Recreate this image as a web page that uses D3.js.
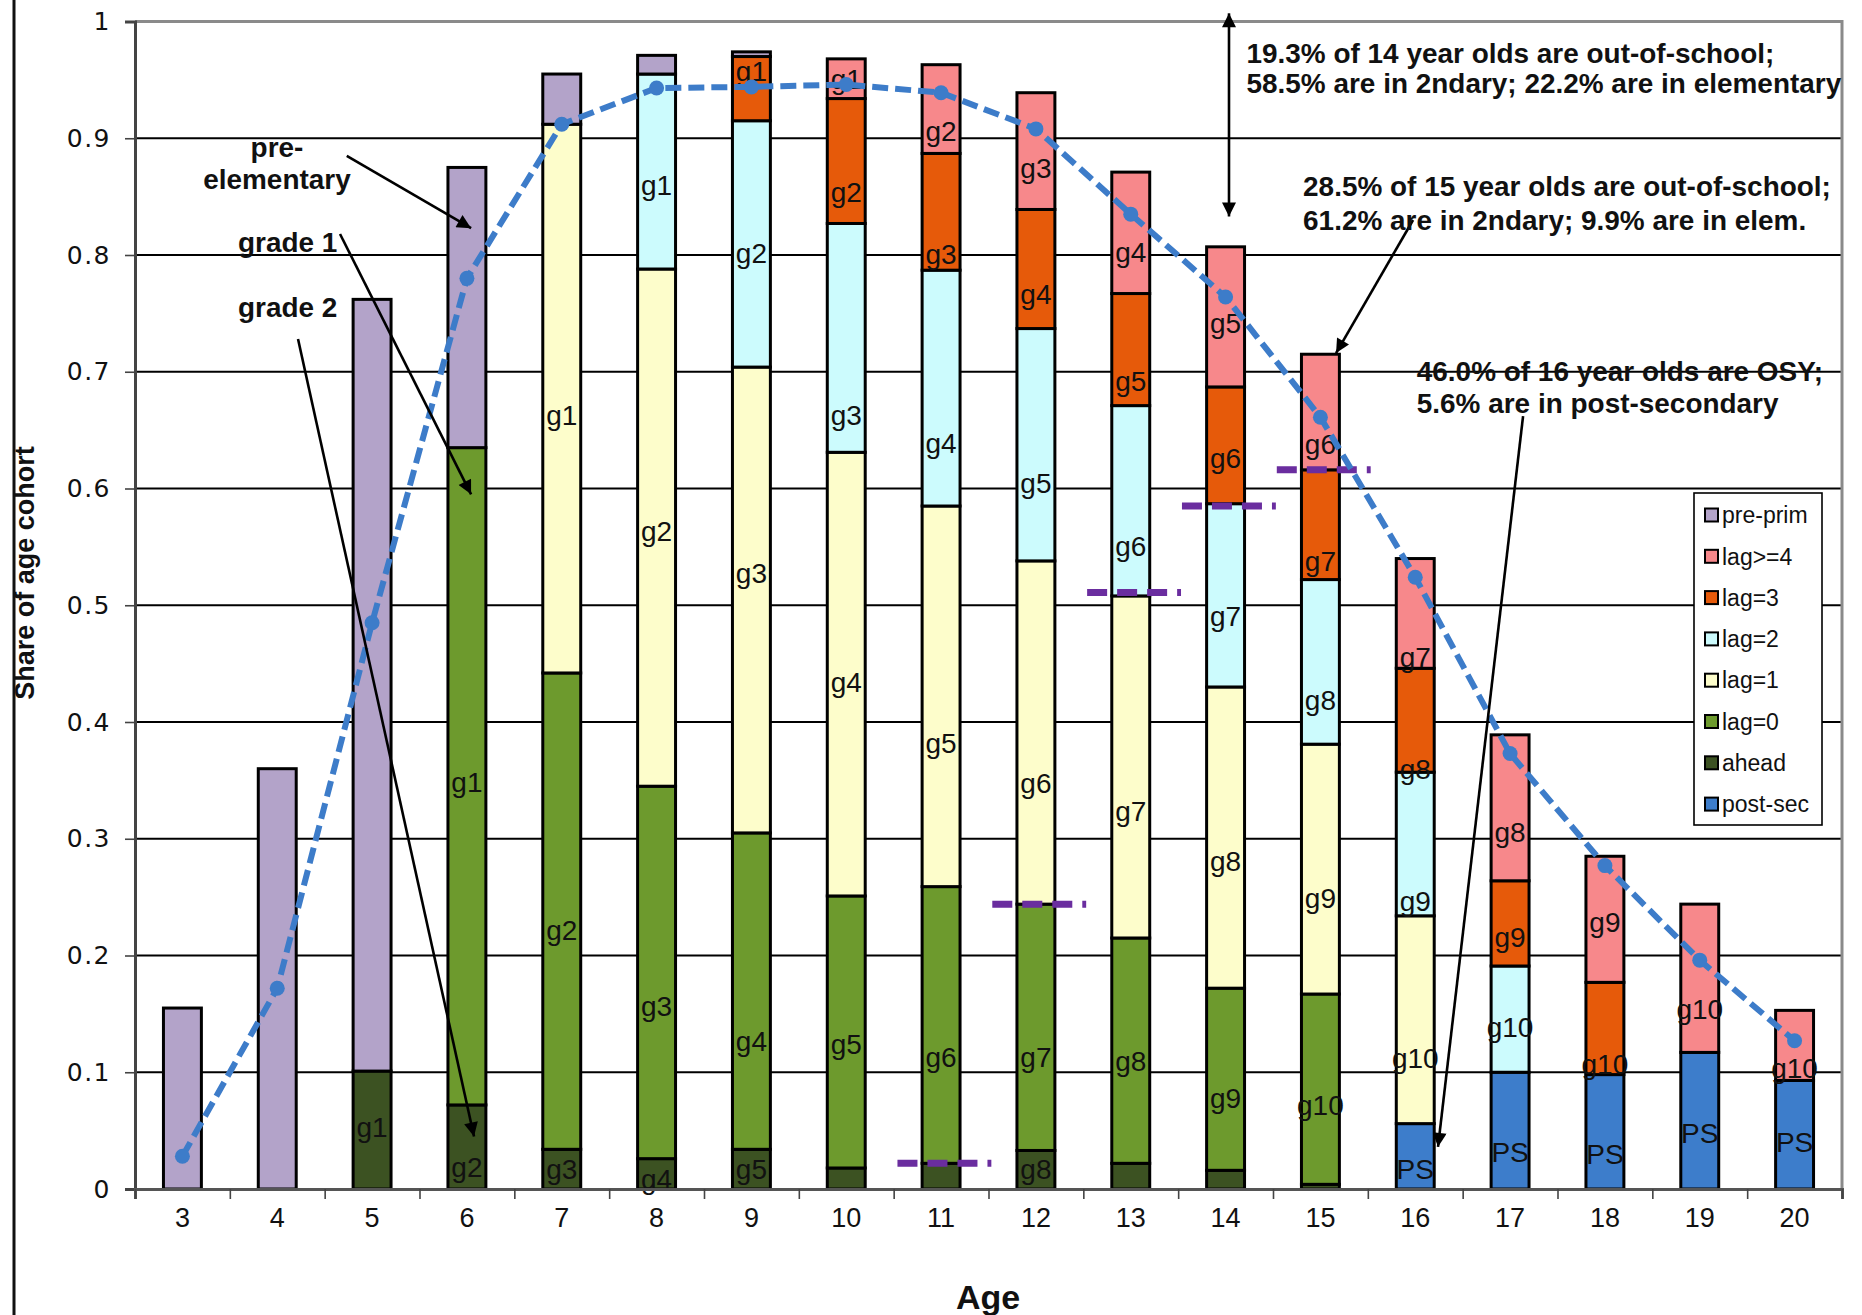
<!DOCTYPE html>
<html>
<head>
<meta charset="utf-8">
<script src="https://cdn.jsdelivr.net/npm/d3@7"></script>
<style>
  html, body { margin: 0; padding: 0; background: #fff; }
  svg { display: block; }
  .narrow { font-family: "Liberation Sans Narrow", "Arial Narrow", sans-serif; }
  .bold { font-family: "Liberation Sans", Arial, sans-serif; font-weight: bold; }
</style>
</head>
<body>
<svg id="chart" width="1862" height="1315"></svg>
<script>
// ── DATA ─────────────────────────────────────────────────────────────────
const ages = [3, 4, 5, 6, 7, 8, 9, 10, 11, 12, 13, 14, 15, 16, 17, 18, 19, 20];

// stacked shares of each age cohort, bottom to top
const postSec = [0, 0, 0, 0, 0, 0, 0, 0, 0, 0, 0, 0, 0, 0.056, 0.100, 0.098, 0.117, 0.093];
const ahead   = [0, 0, 0.101, 0.072, 0.034, 0.026, 0.034, 0.018, 0.022, 0.033, 0.022, 0.016, 0.004, 0, 0, 0, 0, 0];
const lag0    = [0, 0, 0, 0.563, 0.408, 0.319, 0.271, 0.233, 0.237, 0.211, 0.193, 0.156, 0.163, 0, 0, 0, 0, 0];
const lag1    = [0, 0, 0, 0, 0.470, 0.443, 0.399, 0.380, 0.326, 0.294, 0.293, 0.258, 0.214, 0.178, 0, 0, 0, 0];
const lag2    = [0, 0, 0, 0, 0, 0.167, 0.211, 0.196, 0.202, 0.199, 0.163, 0.157, 0.141, 0.123, 0.091, 0, 0, 0];
const lag3    = [0, 0, 0, 0, 0, 0, 0.055, 0.107, 0.100, 0.102, 0.096, 0.100, 0.094, 0.089, 0.073, 0.079, 0, 0];
const lag4    = [0, 0, 0, 0, 0, 0, 0, 0.034, 0.076, 0.100, 0.104, 0.120, 0.099, 0.094, 0.125, 0.108, 0.127, 0.060];
const prePrim = [0.155, 0.360, 0.661, 0.240, 0.043, 0.016, 0.004, 0, 0, 0, 0, 0, 0, 0, 0, 0, 0, 0];

// blue dashed line (share enrolled)
const enrolled = [0.028, 0.172, 0.485, 0.780, 0.912, 0.943, 0.944, 0.946, 0.939, 0.908, 0.835, 0.764, 0.661, 0.524, 0.373, 0.277, 0.196, 0.127];

// purple dash: share in secondary
const secAges  = [11, 12, 13, 14, 15];
const secShare = [0.022, 0.244, 0.511, 0.585, 0.616];

// grade labels inside bars: [age, text, value where label sits]
const gradeLabels = [
  [5, 'g1', 0.053],
  [6, 'g1', 0.349], [6, 'g2', 0.019],
  [7, 'g1', 0.663], [7, 'g2', 0.222], [7, 'g3', 0.017],
  [8, 'g1', 0.860], [8, 'g2', 0.564], [8, 'g3', 0.157], [8, 'g4', 0.009],
  [9, 'g1', 0.958], [9, 'g2', 0.802], [9, 'g3', 0.528], [9, 'g4', 0.127], [9, 'g5', 0.017],
  [10, 'g1', 0.951], [10, 'g2', 0.854], [10, 'g3', 0.663], [10, 'g4', 0.434], [10, 'g5', 0.124],
  [11, 'g2', 0.906], [11, 'g3', 0.801], [11, 'g4', 0.639], [11, 'g5', 0.382], [11, 'g6', 0.113],
  [12, 'g3', 0.875], [12, 'g4', 0.767], [12, 'g5', 0.605], [12, 'g6', 0.348], [12, 'g7', 0.113], [12, 'g8', 0.017],
  [13, 'g4', 0.803], [13, 'g5', 0.692], [13, 'g6', 0.551], [13, 'g7', 0.324], [13, 'g8', 0.110],
  [14, 'g5', 0.742], [14, 'g6', 0.626], [14, 'g7', 0.491], [14, 'g8', 0.281], [14, 'g9', 0.078],
  [15, 'g6', 0.638], [15, 'g7', 0.538], [15, 'g8', 0.419], [15, 'g9', 0.249], [15, 'g10', 0.072],
  [16, 'g7', 0.456], [16, 'g8', 0.360], [16, 'g9', 0.247], [16, 'g10', 0.112], [16, 'PS', 0.017],
  [17, 'g8', 0.306], [17, 'g9', 0.216], [17, 'g10', 0.139], [17, 'PS', 0.032],
  [18, 'g9', 0.229], [18, 'g10', 0.107], [18, 'PS', 0.030],
  [19, 'g10', 0.154], [19, 'PS', 0.048],
  [20, 'g10', 0.104], [20, 'PS', 0.040]
];

const seriesKeys   = ['postSec', 'ahead', 'lag0', 'lag1', 'lag2', 'lag3', 'lag4', 'prePrim'];
const seriesNames  = ['post-sec', 'ahead', 'lag=0', 'lag=1', 'lag=2', 'lag=3', 'lag>=4', 'pre-prim'];
const seriesColors = ['#3d7dcb', '#3c5222', '#6d9a2d', '#fdfdcb', '#ccfbfd', '#e65a0a', '#f7888b', '#b3a3c9'];
const yTicks = [0, 0.1, 0.2, 0.3, 0.4, 0.5, 0.6, 0.7, 0.8, 0.9, 1];

// ── CHART SETUP ──────────────────────────────────────────────────────────
const W = 1862, H = 1315;
const margin = { top: 21.5, right: 20, bottom: 126, left: 135 };
const iW = W - margin.left - margin.right;
const iH = H - margin.top - margin.bottom;

const svg = d3.select('#chart');
const defs = svg.append('defs');
defs.append('marker').attr('id', 'ah')
  .attr('viewBox', '0 0 10 10').attr('refX', 10).attr('refY', 5)
  .attr('markerWidth', 16).attr('markerHeight', 14)
  .attr('markerUnits', 'userSpaceOnUse').attr('orient', 'auto-start-reverse')
  .append('path').attr('d', 'M0,0L10,5L0,10z').attr('fill', '#000');

const x = d3.scaleBand().domain(ages).range([0, iW]).paddingInner(0.6).paddingOuter(0.3);
const xEdge = d3.scaleLinear().domain([0, ages.length]).range([0, iW]);
const y = d3.scaleLinear().domain([0, 1]).range([iH, 0]);
const xc = a => x(a) + x.bandwidth() / 2;
// continuous age position (centre of category) for annotations
const xa = d3.scaleLinear().domain([ages[0], ages[ages.length - 1]]).range([xc(ages[0]), xc(ages[ages.length - 1])]);

// chart-area left border
svg.append('line').attr('x1', 14).attr('x2', 14).attr('y1', 0).attr('y2', H)
  .attr('stroke', '#111').attr('stroke-width', 3);

const g = svg.append('g').attr('transform', `translate(${margin.left},${margin.top})`);

// grid
g.append('g').selectAll('line')
  .data(yTicks.filter(d => d > 0 && d < 1))
  .join('line')
  .attr('x1', 0).attr('x2', iW)
  .attr('y1', d => y(d)).attr('y2', d => y(d))
  .attr('stroke', '#000').attr('stroke-width', 1.8);

// plot border (top + right)
g.append('path')
  .attr('d', `M0,${y(1)}H${iW}V${iH}`)
  .attr('fill', 'none').attr('stroke', '#8a8a8a').attr('stroke-width', 3);

// ── BARS ─────────────────────────────────────────────────────────────────
const cols = { postSec, ahead, lag0, lag1, lag2, lag3, lag4, prePrim };
const table = ages.map((a, i) => {
  const row = { age: a };
  seriesKeys.forEach(k => { row[k] = cols[k][i]; });
  return row;
});
const stacked = d3.stack().keys(seriesKeys)(table);

g.append('g').selectAll('g')
  .data(stacked)
  .join('g')
  .attr('fill', (d, i) => seriesColors[i])
  .selectAll('rect')
  .data(d => d.filter(s => s[1] - s[0] > 0))
  .join('rect')
  .attr('x', d => x(d.data.age))
  .attr('width', x.bandwidth())
  .attr('y', d => y(d[1]))
  .attr('height', d => y(d[0]) - y(d[1]))
  .attr('stroke', '#000').attr('stroke-width', 3);

// grade labels
g.append('g').attr('class', 'narrow')
  .selectAll('text')
  .data(gradeLabels)
  .join('text')
  .attr('x', d => xc(d[0]))
  .attr('y', d => y(d[2]))
  .attr('dy', '0.36em')
  .attr('text-anchor', 'middle')
  .attr('font-size', 28)
  .attr('fill', '#111')
  .text(d => d[1]);

// ── AXES ─────────────────────────────────────────────────────────────────
const yAxis = g.append('g')
  .call(d3.axisLeft(y).tickValues(yTicks).tickSize(10).tickPadding(14)
    .tickFormat(d => d === 0 ? '0' : d === 1 ? '1' : d.toFixed(1)));
yAxis.select('.domain').attr('stroke', '#444').attr('stroke-width', 3);
yAxis.selectAll('.tick line').attr('stroke', '#444').attr('stroke-width', 1.6);
yAxis.selectAll('text')
  .attr('font-family', '"DejaVu Sans", sans-serif').attr('font-size', 25)
  .attr('letter-spacing', 1.5).attr('fill', '#111');

const xTickG = g.append('g').attr('transform', `translate(0,${iH})`)
  .call(d3.axisBottom(xEdge).tickValues(d3.range(ages.length + 1)).tickSize(10).tickFormat(''));
xTickG.select('.domain').attr('stroke', '#555').attr('stroke-width', 3);
xTickG.selectAll('.tick line').attr('stroke', '#444').attr('stroke-width', 1.6);

const xAxis = g.append('g').attr('transform', `translate(0,${iH})`)
  .call(d3.axisBottom(x).tickSize(0).tickPadding(19));
xAxis.select('.domain').remove();
xAxis.selectAll('text')
  .attr('class', 'narrow').attr('font-size', 27).attr('fill', '#111');

// axis titles
svg.append('text').attr('class', 'bold')
  .attr('x', 988).attr('y', 1309)
  .attr('text-anchor', 'middle').attr('font-size', 34).attr('fill', '#111')
  .text('Age');

svg.append('text').attr('class', 'narrow')
  .attr('transform', 'translate(34,573) rotate(-90)')
  .attr('text-anchor', 'middle').attr('font-size', 27).attr('font-weight', 'bold').attr('fill', '#111')
  .text('Share of age cohort');

// ── SECONDARY DASHES ─────────────────────────────────────────────────────
g.append('g').selectAll('line')
  .data(secAges.map((a, i) => [a, secShare[i]]))
  .join('line')
  .attr('x1', d => xc(d[0]) - 0.46 * x.step())
  .attr('x2', d => xc(d[0]) + 0.53 * x.step())
  .attr('y1', d => y(d[1])).attr('y2', d => y(d[1]))
  .attr('stroke', '#6a2d9f').attr('stroke-width', 7)
  .attr('stroke-dasharray', '20 10');

// ── ENROLLED LINE ────────────────────────────────────────────────────────
const linePts = ages.map((a, i) => [a, enrolled[i]]);
g.append('path')
  .datum(linePts)
  .attr('d', d3.line().x(d => xc(d[0])).y(d => y(d[1])))
  .attr('fill', 'none').attr('stroke', '#3d7cc9').attr('stroke-width', 6)
  .attr('stroke-dasharray', '16 7');
g.append('g').selectAll('circle')
  .data(linePts)
  .join('circle')
  .attr('cx', d => xc(d[0])).attr('cy', d => y(d[1])).attr('r', 7.5)
  .attr('fill', '#3d7cc9');

// ── ANNOTATIONS ──────────────────────────────────────────────────────────
// arrows in [age, value] coordinates
const arrows = [
  { from: [4.733, 0.885], to: [6.044, 0.823] },
  { from: [4.662, 0.818], to: [6.044, 0.595] },
  { from: [4.219, 0.728], to: [6.075, 0.045] },
  { from: [14.036, 0.833], to: [14.036, 1.007], both: true },
  { from: [15.977, 0.830], to: [15.165, 0.716] },
  { from: [17.137, 0.662], to: [16.240, 0.036] }
];
g.append('g').selectAll('line')
  .data(arrows)
  .join('line')
  .attr('x1', d => xa(d.from[0])).attr('y1', d => y(d.from[1]))
  .attr('x2', d => xa(d.to[0])).attr('y2', d => y(d.to[1]))
  .attr('stroke', '#000').attr('stroke-width', 2.6)
  .attr('marker-end', 'url(#ah)')
  .attr('marker-start', d => d.both ? 'url(#ah)' : null);

// notes: [age position, value, text, anchor]
const notes = [
  [3.997, 0.892, 'pre-', 'middle'],
  [3.997, 0.865, 'elementary', 'middle'],
  [3.586, 0.811, 'grade 1', 'start'],
  [3.586, 0.755, 'grade 2', 'start'],
  [14.22, 0.973, '19.3% of 14 year olds are out-of-school;', 'start'],
  [14.22, 0.947, '58.5% are in 2ndary; 22.2% are in elementary', 'start'],
  [14.817, 0.859, '28.5% of 15 year olds are out-of-school;', 'start'],
  [14.817, 0.830, '61.2% are in 2ndary; 9.9% are in elem.', 'start'],
  [16.016, 0.700, '46.0% of 16 year olds are OSY;', 'start'],
  [16.016, 0.673, '5.6% are in post-secondary', 'start']
];
g.append('g').attr('class', 'bold')
  .selectAll('text')
  .data(notes)
  .join('text')
  .attr('transform', d => `translate(${xa(d[0])},${y(d[1])}) scale(1.035,1)`)
  .attr('dy', '0.36em')
  .attr('text-anchor', d => d[3])
  .attr('font-size', 27).attr('fill', '#111')
  .text(d => d[2]);

// ── LEGEND ───────────────────────────────────────────────────────────────
const legX = 1694, legY = 493, legW = 128, legH = 332, legStep = 41.3;
const leg = svg.append('g').attr('transform', `translate(${legX},${legY})`);
leg.append('rect').attr('width', legW).attr('height', legH)
  .attr('fill', '#fff').attr('stroke', '#000').attr('stroke-width', 1.6);
const legItems = seriesKeys.map((k, i) => ({ name: seriesNames[i], color: seriesColors[i] })).reverse();
const li = leg.selectAll('g.item').data(legItems).join('g')
  .attr('class', 'item')
  .attr('transform', (d, i) => `translate(0,${22 + i * legStep})`);
li.append('rect').attr('x', 11).attr('y', -6.5).attr('width', 13).attr('height', 13)
  .attr('fill', d => d.color).attr('stroke', '#000').attr('stroke-width', 2);
li.append('text').attr('x', 28).attr('dy', '0.36em')
  .attr('font-family', '"Liberation Sans", Arial, sans-serif').attr('font-size', 23)
  .attr('fill', '#111')
  .text(d => d.name);
</script>
</body>
</html>
